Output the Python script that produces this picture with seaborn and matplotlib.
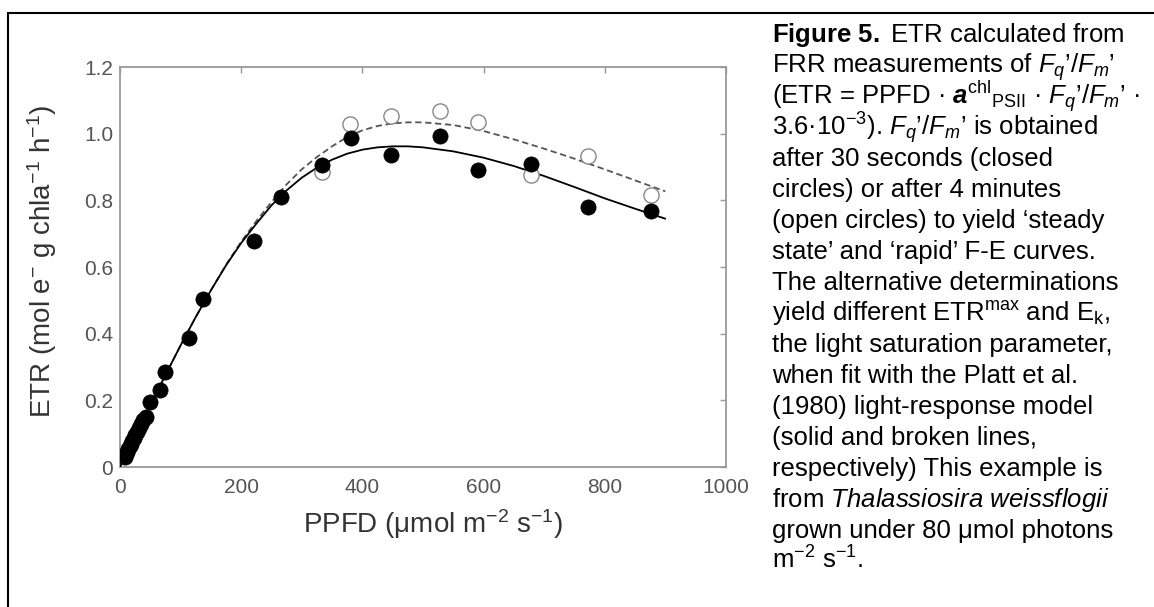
import pandas as pd
import matplotlib.pyplot as plt
import seaborn as sns
from matplotlib.lines import Line2D

# closed circles: Fq'/Fm' after 30 s
closed_ppfd = [8, 10, 12, 14, 16, 18, 20, 23, 25, 28, 31, 34, 38, 43, 50, 66, 75, 114, 137,
               221, 266, 333, 381, 447, 528, 591, 678, 773, 876]
closed_etr = [0.03, 0.038, 0.046, 0.054, 0.062, 0.07, 0.078, 0.088, 0.096, 0.106, 0.117, 0.128,
              0.14, 0.15, 0.196, 0.231, 0.286, 0.386, 0.505, 0.678, 0.811, 0.906, 0.986, 0.936,
              0.993, 0.891, 0.908, 0.779, 0.768]

# open circles: Fq'/Fm' after 4 min
open_ppfd = [333, 380, 447, 528, 591, 678, 773, 876]
open_etr = [0.884, 1.029, 1.053, 1.068, 1.034, 0.876, 0.934, 0.816]

# fitted curves
fit_ppfd = [0, 25, 50, 75, 100, 125, 150, 175, 200, 225, 250, 275, 300, 325, 350, 375, 400,
            425, 450, 475, 500, 550, 600, 650, 700, 750, 800, 850, 900]
fit_solid = [0, 0.093, 0.185, 0.276, 0.365, 0.45, 0.53, 0.605, 0.672, 0.73, 0.785, 0.83, 0.868,
             0.898, 0.922, 0.94, 0.952, 0.959, 0.962, 0.962, 0.959, 0.947, 0.928, 0.903, 0.873,
             0.84, 0.806, 0.775, 0.745]
fit_dashed = [0, 0.093, 0.185, 0.276, 0.365, 0.45, 0.53, 0.607, 0.676, 0.738, 0.795, 0.848,
              0.893, 0.93, 0.962, 0.99, 1.01, 1.023, 1.031, 1.034, 1.034, 1.026, 1.008, 0.983,
              0.955, 0.925, 0.893, 0.86, 0.827]

x_ticks = [0, 200, 400, 600, 800, 1000]
y_ticks = [0, 0.2, 0.4, 0.6, 0.8, 1.0, 1.2]
y_tick_labels = ['0', '0.2', '0.4', '0.6', '0.8', '1.0', '1.2']

caption = [
    r"$\mathbf{Figure\ 5.}$ ETR calculated from",
    r"FRR measurements of $\mathit{F_q’/F_m’}$",
    r"(ETR = PPFD · $\mathbfit{a}^{\mathrm{chl}}{}_{\mathrm{PSII}}$ · $\mathit{F_q’/F_m’}$ ·",
    r"3.6·10$^{-3}$). $\mathit{F_q’/F_m’}$ is obtained",
    "after 30 seconds (closed",
    "circles) or after 4 minutes",
    "(open circles) to yield ‘steady",
    "state’ and ‘rapid’ F-E curves.",
    "The alternative determinations",
    r"yield different ETR$^{\mathrm{max}}$ and E$_{\mathrm{k}}$,",
    "the light saturation parameter,",
    "when fit with the Platt et al.",
    "(1980) light-response model",
    "(solid and broken lines,",
    "respectively) This example is",
    r"from $\mathit{Thalassiosira\ weissflogii}$",
    "grown under 80 μmol photons",
    r"m$^{-2}$ s$^{-1}$.",
]

sns.set_style('white')
plt.rcParams['font.family'] = ['Liberation Sans', 'DejaVu Sans']
plt.rcParams['mathtext.fontset'] = 'custom'
plt.rcParams['mathtext.rm'] = 'Liberation Sans'
plt.rcParams['mathtext.it'] = 'Liberation Sans:italic'
plt.rcParams['mathtext.bf'] = 'Liberation Sans:bold'
plt.rcParams['mathtext.bfit'] = 'Liberation Sans:italic:bold'

closed_df = pd.DataFrame({'ppfd': closed_ppfd, 'etr': closed_etr})
open_df = pd.DataFrame({'ppfd': open_ppfd, 'etr': open_etr})
fit_df = pd.DataFrame({'ppfd': fit_ppfd, 'solid': fit_solid, 'dashed': fit_dashed})

fig = plt.figure(figsize=(11.54, 6.07), dpi=100)
ax = fig.add_axes([0.104, 0.2306, 0.525, 0.659])

sns.lineplot(data=fit_df, x='ppfd', y='dashed', ax=ax, color='#555555', lw=1.3,
             linestyle=(0, (3.5, 2)), zorder=2)
sns.lineplot(data=fit_df, x='ppfd', y='solid', ax=ax, color='black', lw=1.3, zorder=3)
sns.scatterplot(data=open_df, x='ppfd', y='etr', ax=ax, s=120, facecolor='white',
                edgecolor='#888888', linewidth=1.0, zorder=4)
sns.scatterplot(data=closed_df, x='ppfd', y='etr', ax=ax, s=120, color='black',
                edgecolor='black', linewidth=0.5, zorder=5)

ax.set_xlim(0, 1000)
ax.set_ylim(0, 1.2)
ax.set_xticks(x_ticks)
ax.set_yticks(y_ticks)
ax.set_yticklabels(y_tick_labels)
ax.tick_params(direction='in', length=4, width=1, color='#999999', labelcolor='#555555',
               labelsize=15, top=True, right=True)
ax.tick_params(axis='x', pad=8)
ax.tick_params(axis='y', pad=5)
for sp in ax.spines.values():
    sp.set_color('#999999')
    sp.set_linewidth(1.3)

ax.set_xlabel('PPFD (μmol m$^{-2}$ s$^{-1}$)', fontsize=20, color='#333333')
ax.set_ylabel('ETR (mol e$^{-}$ g chla$^{-1}$ h$^{-1}$)', fontsize=20, color='#333333')
ax.xaxis.set_label_coords(0.516, -0.10)
ax.yaxis.set_label_coords(-0.10, 0.515)

for i, line in enumerate(caption):
    fig.text(772 / 1154, 1 - (42 + i * 31) / 607, line, fontsize=18.5, color='black',
             ha='left', va='baseline')

# partial frame around the figure
fig.add_artist(Line2D([8 / 1154, 8 / 1154], [0, 1 - 13 / 607], color='black', lw=1.5))
fig.add_artist(Line2D([8 / 1154, 1], [1 - 13 / 607, 1 - 13 / 607], color='black', lw=1.5))

fig.savefig('out.png', dpi=100)
